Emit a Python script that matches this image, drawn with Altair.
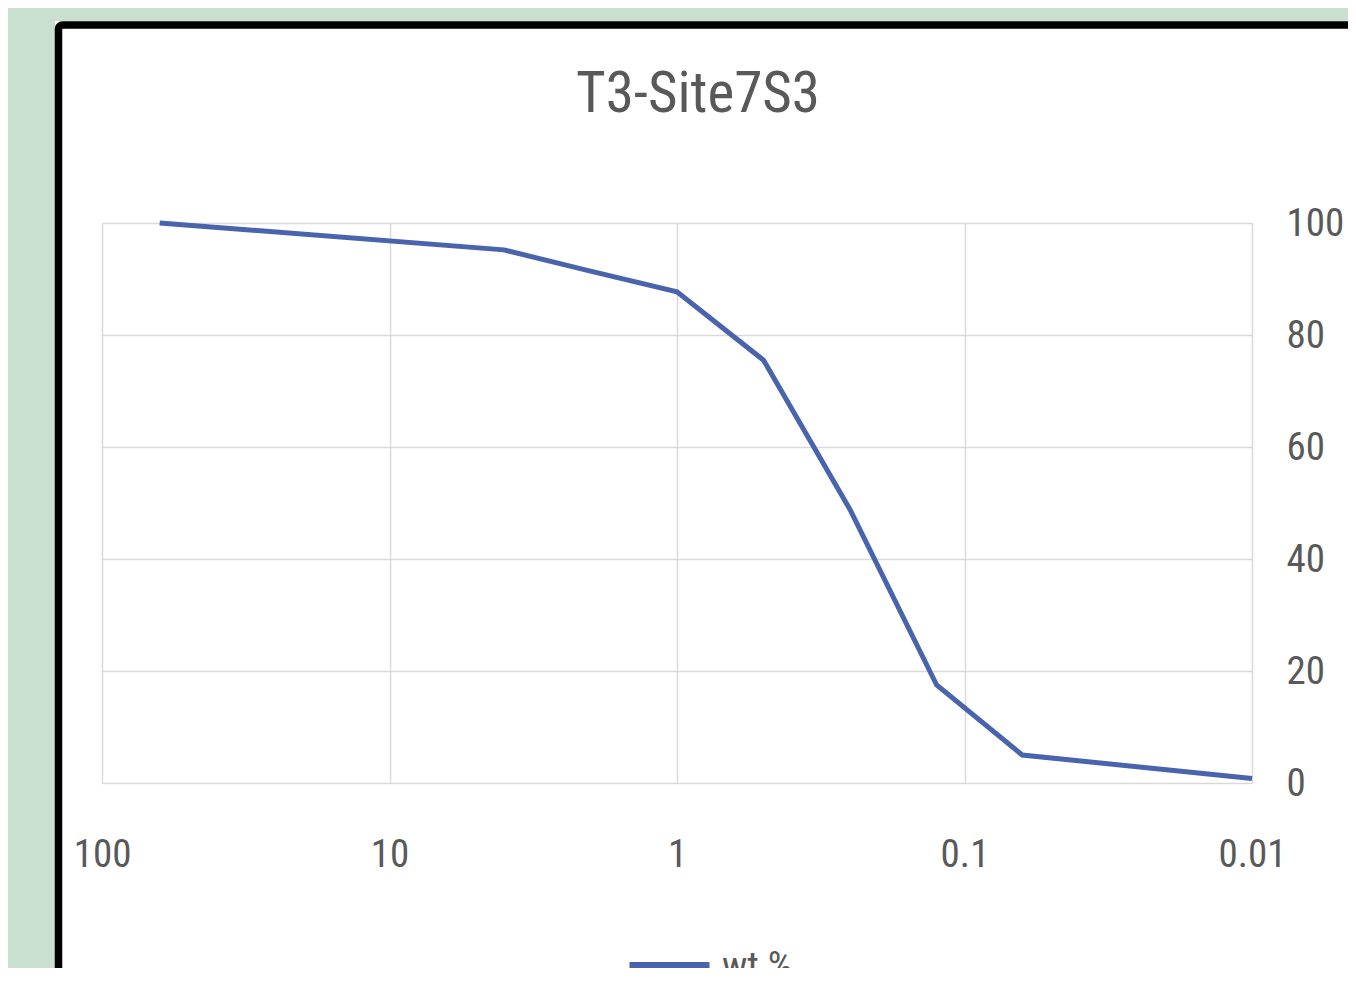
import altair as alt
import pandas as pd

# ---- data ----
sizes_mm = [63, 4, 2, 1, 0.5, 0.25, 0.125, 0.063, 0.01]
wt_pct = [100, 95.2, 91.4, 87.7, 75.5, 48.8, 17.5, 5.0, 0.8]
x_ticks = [100, 10, 1, 0.1, 0.01]
y_ticks = [0, 20, 40, 60, 80, 100]
series_name = "wt %"
title_text = "T3-Site7S3"

df = pd.DataFrame({"size": sizes_mm, "wt": wt_pct,
                   "series": [series_name] * len(sizes_mm)})
frame_df = pd.DataFrame({"k": [0]})
title_df = pd.DataFrame({"t": [title_text]})

W, H = 1150, 560
FONT = "Roboto Condensed, Liberation Sans Narrow, DejaVu Sans Condensed, Liberation Sans"
TXT = "#595959"
GREEN = "#c9e0d1"
LINE = "#4a63ad"
LBL = 39

x_enc = alt.X(
    "size:Q",
    scale=alt.Scale(type="log", domain=[0.01, 100], reverse=True, nice=False),
    axis=alt.Axis(values=x_ticks, format="~g", title=None, grid=True, ticks=False,
                  domain=False, labelPadding=52, labelFontSize=LBL, labelFont=FONT,
                  labelColor=TXT, labelFlush=False, gridColor="#d9d9d9", gridWidth=1.5),
)
y_enc = alt.Y(
    "wt:Q",
    scale=alt.Scale(domain=[0, 100], nice=False),
    axis=alt.Axis(orient="right", values=y_ticks, title=None, grid=True, ticks=False,
                  domain=False, labelPadding=34, labelFontSize=LBL, labelFont=FONT,
                  labelColor=TXT, gridColor="#d9d9d9", gridWidth=1.5),
)

line = alt.Chart(df).mark_line(strokeWidth=5).encode(
    x=x_enc,
    y=y_enc,
    color=alt.Color(
        "series:N",
        scale=alt.Scale(range=[LINE]),
        legend=alt.Legend(orient="none", legendX=523, legendY=699, title=None,
                          symbolType="stroke", symbolSize=6400, symbolStrokeWidth=9,
                          labelFontSize=LBL, labelFont=FONT, labelColor=TXT,
                          padding=0, labelOffset=8),
    ),
)

# chart title drawn as a text mark (the decorative frame would push a real title off-page)
title = alt.Chart(title_df).mark_text(
    font=FONT, fontSize=57, color=TXT, align="center", baseline="alphabetic"
).encode(text="t:N", x=alt.value(596), y=alt.value(-111))

# decorative frame (green surround and black panel border)
top_green = alt.Chart(frame_df).mark_rect(color=GREEN).encode(
    x=alt.value(-200), x2=alt.value(1500), y=alt.value(-400), y2=alt.value(-202))
left_green = alt.Chart(frame_df).mark_rect(color=GREEN).encode(
    x=alt.value(-200), x2=alt.value(-47), y=alt.value(-400), y2=alt.value(1000))
border = alt.Chart(frame_df).mark_rect(fillOpacity=0, stroke="black", strokeWidth=7.5,
                                       cornerRadius=4).encode(
    x=alt.value(-43.5), x2=alt.value(1500), y=alt.value(-198), y2=alt.value(1000))

chart = alt.layer(top_green, left_green, border, title, line).properties(
    width=W,
    height=H,
    padding={"left": 94, "top": 215, "right": 96, "bottom": 185},
    autosize=alt.AutoSizeParams(type="none"),
).configure_view(stroke=None)

chart.save("out.html", embed_options={"renderer": "svg", "actions": False})
